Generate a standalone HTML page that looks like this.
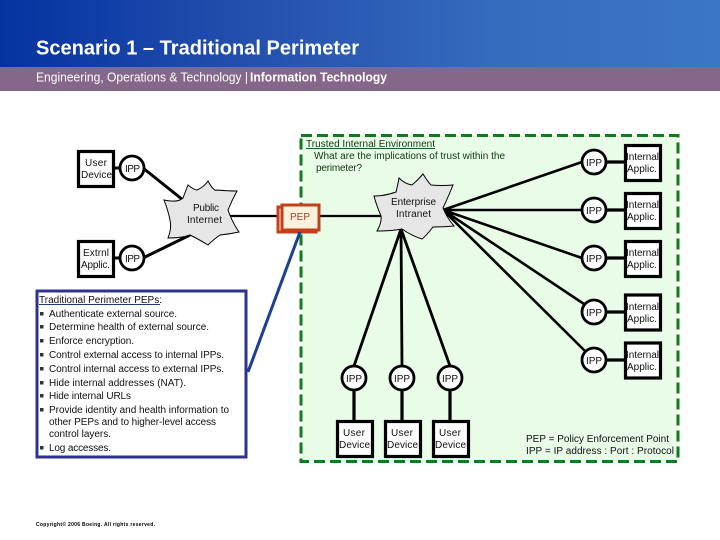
<!DOCTYPE html>
<html><head><meta charset="utf-8"><style>
html,body{margin:0;padding:0;background:#fff}
svg{display:block}
text{font-family:"Liberation Sans",sans-serif;font-size:10px;fill:#111}
.b{fill:#fff;stroke:#000;stroke-width:3.2}
.c{fill:#fff;stroke:#000;stroke-width:2.8}
.l{stroke:#000;fill:none}
</style></head><body>
<svg width="720" height="540" viewBox="0 0 720 540" xmlns="http://www.w3.org/2000/svg">
<defs><linearGradient id="g" x1="0" x2="1" y1="0" y2="0"><stop offset="0" stop-color="#0533a0"/><stop offset=".35" stop-color="#2450ae"/><stop offset=".7" stop-color="#366cbe"/><stop offset="1" stop-color="#3b76c5"/></linearGradient></defs>
<rect width="720" height="67" fill="url(#g)"/>
<rect y="67" width="720" height="24" fill="#856889"/>
<text x="36" y="54.5" textLength="323" lengthAdjust="spacingAndGlyphs" style="font-size:20px;font-weight:bold;fill:#fff">Scenario 1 – Traditional Perimeter</text>
<text x="36" y="81.5" textLength="212" lengthAdjust="spacingAndGlyphs" style="font-size:13px;fill:#fff">Engineering, Operations &amp; Technology |</text>
<text x="250" y="81.5" textLength="137" lengthAdjust="spacingAndGlyphs" style="font-size:13px;font-weight:bold;fill:#fff">Information Technology</text>

<rect x="301" y="135.5" width="377" height="326" fill="#e8fce8" stroke="#127a1e" stroke-width="3" stroke-dasharray="11 5"/>

<g class="l">
<path d="M143 168L183 200M143 258L190 235M115 168H120M115 258H120" stroke-width="3" fill="none" stroke="#000"/>
<path d="M228 216H277M319 216H381" stroke-width="2.2" fill="none" stroke="#000"/>
<path d="M443 210L582 162M443 210H582M443 210L582 258M443 210L584 304M443 210L585 351" stroke-width="2.6" fill="none" stroke="#000"/>
<path d="M401 229L354 366M401 229L402 366M401 229L450 366" stroke-width="2.8" fill="none" stroke="#000"/>
<path d="M606 162H624M606 210H624M606 258H624M606 312H624M606 360H624M354 390V420M402 390V420M450 390V420" stroke-width="3.2" fill="none" stroke="#000"/>
</g>

<path d="M164 200Q178 203 183 198Q186 190 188 185Q194 190 197 190Q204 187 208 181Q214 192 217 190Q228 191 237 191Q232 200 228 210Q232 222 239 232Q230 234 220 235Q213 240 208 245Q200 240 190 235Q182 238 168 238Q172 228 170 220Q168 210 164 200Z" fill="#e6e6e6" stroke="#000" stroke-width="1"/>
<path d="M374 196Q385 196 396 192Q398 184 399 178Q405 184 412 185Q418 180 423 174Q428 182 431 185Q442 186 453 185Q449 195 443 208Q447 218 454 226Q444 227 433 227Q426 236 422 239Q412 236 402 229Q392 231 377 231Q382 222 381 216Q376 204 374 196Z" fill="#e6e6e6" stroke="#000" stroke-width="1"/>

<rect x="278" y="207" width="38" height="25" fill="#fdf0dc" stroke="#c0401a" stroke-width="3"/>
<rect x="282" y="205" width="37" height="25" fill="#fdf0dc" stroke="#c0401a" stroke-width="3"/>
<path d="M248 372L300 232" stroke="#1c3f94" stroke-width="3"/>

<g>
<rect class="b" x="78.5" y="151.5" width="35" height="35"/><rect class="b" x="78.5" y="241.5" width="35" height="35"/>
<circle class="c" cx="132" cy="168" r="12"/><circle class="c" cx="132" cy="258" r="12"/>
<circle class="c" cx="594" cy="162" r="12"/><circle class="c" cx="594" cy="210" r="12"/><circle class="c" cx="594" cy="258" r="12"/><circle class="c" cx="594" cy="312" r="12"/><circle class="c" cx="594" cy="360" r="12"/>
<rect class="b" x="625.5" y="145.5" width="35" height="35"/><rect class="b" x="625.5" y="193.5" width="35" height="35"/><rect class="b" x="625.5" y="241.5" width="35" height="35"/><rect class="b" x="625.5" y="295" width="35" height="35"/><rect class="b" x="625.5" y="343" width="35" height="35"/>
<circle class="c" cx="354" cy="378" r="12"/><circle class="c" cx="402" cy="378" r="12"/><circle class="c" cx="450" cy="378" r="12"/>
<rect class="b" x="337.5" y="421.5" width="35" height="35"/><rect class="b" x="385.5" y="421.5" width="35" height="35"/><rect class="b" x="433.5" y="421.5" width="35" height="35"/>
</g>

<text x="85" y="166" textLength="22">User</text><text x="81" y="178" textLength="31">Device</text>
<text x="83" y="256" textLength="26">Extrnl</text><text x="81" y="268" textLength="29">Applic.</text>
<text x="125" y="172" textLength="15">IPP</text><text x="125" y="262" textLength="15">IPP</text>
<text x="193" y="211" textLength="26">Public</text><text x="187" y="223" textLength="35">Internet</text>
<text x="391" y="205" textLength="45">Enterprise</text><text x="396" y="217" textLength="35">Intranet</text>
<text x="290" y="220" textLength="20" style="fill:#a5401f">PEP</text>

<text x="306" y="147" textLength="129" style="fill:#103810">Trusted Internal Environment</text>
<path d="M306 148.5H435" stroke="#14601e" stroke-width="1"/>
<text x="314" y="159" textLength="191" style="fill:#103810">What are the implications of trust within the</text>
<text x="316" y="171" textLength="46" style="fill:#103810">perimeter?</text>

<text x="586" y="166" textLength="16">IPP</text><text x="586" y="214" textLength="16">IPP</text><text x="586" y="262" textLength="16">IPP</text><text x="586" y="316" textLength="16">IPP</text><text x="586" y="364" textLength="16">IPP</text>
<text x="626" y="160" textLength="33">Internal</text><text x="627" y="172" textLength="30">Applic.</text>
<text x="626" y="208" textLength="33">Internal</text><text x="627" y="220" textLength="30">Applic.</text>
<text x="626" y="256" textLength="33">Internal</text><text x="627" y="268" textLength="30">Applic.</text>
<text x="626" y="310" textLength="33">Internal</text><text x="627" y="322" textLength="30">Applic.</text>
<text x="626" y="358" textLength="33">Internal</text><text x="627" y="370" textLength="30">Applic.</text>

<text x="346" y="382" textLength="16">IPP</text><text x="394" y="382" textLength="16">IPP</text><text x="442" y="382" textLength="16">IPP</text>
<text x="343" y="436" textLength="22">User</text><text x="339" y="448" textLength="31">Device</text>
<text x="391" y="436" textLength="22">User</text><text x="387" y="448" textLength="31">Device</text>
<text x="439" y="436" textLength="22">User</text><text x="435" y="448" textLength="31">Device</text>

<text x="526" y="442" textLength="143">PEP = Policy Enforcement Point</text>
<text x="526" y="454" textLength="148">IPP = IP address : Port : Protocol</text>

<rect x="37" y="291" width="209" height="166" fill="#fff" stroke="#2e3192" stroke-width="3"/>
<text x="39" y="303" textLength="123">Traditional Perimeter PEPs:</text>
<path d="M39 304.5H160" stroke="#1f3a7a" stroke-width="1"/>
<g fill="#333">
<rect x="40" y="312" width="3.5" height="3.5"/><rect x="40" y="325" width="3.5" height="3.5"/><rect x="40" y="339" width="3.5" height="3.5"/><rect x="40" y="353" width="3.5" height="3.5"/><rect x="40" y="367" width="3.5" height="3.5"/><rect x="40" y="381" width="3.5" height="3.5"/><rect x="40" y="394" width="3.5" height="3.5"/><rect x="40" y="408" width="3.5" height="3.5"/><rect x="40" y="446" width="3.5" height="3.5"/>
</g>
<text x="49" y="317" textLength="128">Authenticate external source.</text>
<text x="49" y="330" textLength="160">Determine health of external source.</text>
<text x="49" y="344" textLength="85">Enforce encryption.</text>
<text x="49" y="358" textLength="175">Control external access to internal IPPs.</text>
<text x="49" y="372" textLength="175">Control internal access to external IPPs.</text>
<text x="49" y="386" textLength="137">Hide internal addresses (NAT).</text>
<text x="49" y="399" textLength="82">Hide internal URLs</text>
<text x="49" y="413" textLength="180">Provide identity and health information to</text>
<text x="49" y="425" textLength="167">other PEPs and to higher-level access</text>
<text x="49" y="437" textLength="62">control layers.</text>
<text x="49" y="451" textLength="62">Log accesses.</text>

<text x="36" y="526" textLength="119" style="font-size:5px;font-weight:bold;fill:#000">Copyright© 2006 Boeing. All rights reserved.</text>
</svg>
</body></html>
